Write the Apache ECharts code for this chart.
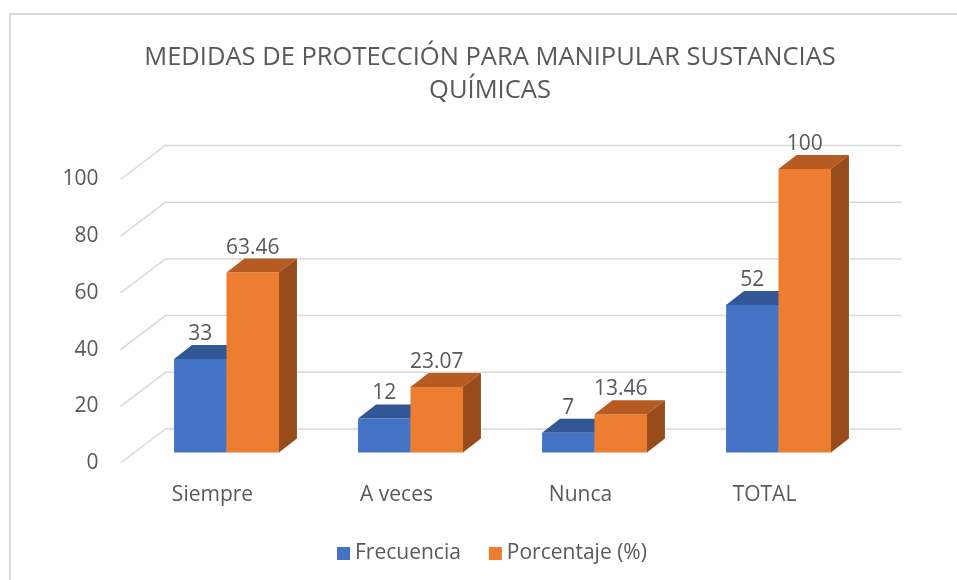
<!DOCTYPE html>
<html>
<head>
<meta charset="utf-8">
<title>Medidas de protección</title>
<script src="https://cdn.jsdelivr.net/npm/echarts@6/dist/echarts.min.js"></script>
<style>
  html, body { margin: 0; padding: 0; background: #fff; }
  #main { width: 957px; height: 580px; }
</style>
</head>
<body>
<div id="main"></div>
<script>
  const categories = ['Siempre', 'A veces', 'Nunca', 'TOTAL']
  const frecuencia = [33, 12, 7, 52]
  const porcentaje = [63.46, 23.07, 13.46, 100]
  const yTicks = [0, 20, 40, 60, 80, 100]

  const FONT = '"Open Sans", "Noto Sans", sans-serif'
  const TEXT = '#595959'
  // efecto 3D (px): lateral de barra, pared del fondo y borde delantero del suelo
  const BAR_DX = 18, BAR_DY = -14
  const BACK_DX = 31, BACK_DY = -23.5
  const FRONT_DX = -14, FRONT_DY = 10.5
  const BAR_RATIO = 0.285

  const dom = document.getElementById('main')
  const myChart = echarts.init(dom)

  function frameRenderer(params, api) {
    const v = api.value(1)
    const bw = api.size([1, 0])[0]
    const p0 = api.coord([0, v])
    const pN = api.coord([categories.length - 1, v])
    const left = p0[0] - bw / 2
    const right = pN[0] + bw / 2
    const y = p0[1]
    return {
      type: 'polyline',
      shape: { points: [[left + FRONT_DX, y + FRONT_DY], [left + BACK_DX, y + BACK_DY], [right + BACK_DX, y + BACK_DY]] },
      style: { stroke: '#d9d9d9', lineWidth: 1.5, fill: null }
    }
  }

  function barRenderer(colors, side) {
    return function (params, api) {
      const idx = api.value(0)
      const val = api.value(1)
      const top = api.coord([idx, val])
      const base = api.coord([idx, 0])
      const bw = api.size([1, 0])[0] * BAR_RATIO
      const x0 = side === 0 ? top[0] - bw : top[0]
      const x1 = x0 + bw
      const y0 = top[1], y1 = base[1]
      return {
        type: 'group',
        children: [
          { type: 'rect', shape: { x: x0, y: y0, width: bw, height: y1 - y0 }, style: { fill: colors[0] } },
          {
            type: 'polygon',
            shape: { points: [[x0, y0], [x0 + BAR_DX, y0 + BAR_DY], [x1 + BAR_DX, y0 + BAR_DY], [x1, y0]] },
            style: { fill: colors[1] }
          },
          {
            type: 'polygon',
            shape: { points: [[x1, y0], [x1 + BAR_DX, y0 + BAR_DY], [x1 + BAR_DX, y1 + BAR_DY], [x1, y1]] },
            style: { fill: colors[2] }
          },
          {
            type: 'text',
            x: (x0 + x1) / 2,
            y: y0 - 25,
            style: {
              text: String(val),
              align: 'center',
              verticalAlign: 'middle',
              fontSize: 21,
              fontFamily: FONT,
              fill: TEXT
            }
          }
        ]
      }
    }
  }

  myChart.setOption({
    animation: false,
    backgroundColor: '#fff',
    graphic: [
      {
        type: 'rect',
        silent: true,
        z: -10,
        shape: { x: 10, y: 14, width: 1000, height: 700 },
        style: { fill: 'none', stroke: '#d9d9d9', lineWidth: 2 }
      }
    ],
    title: {
      text: 'MEDIDAS DE PROTECCIÓN PARA MANIPULAR SUSTANCIAS\nQUÍMICAS',
      left: 485,
      textAlign: 'center',
      top: 36,
      textStyle: {
        fontFamily: FONT,
        fontSize: 25.5,
        fontWeight: 'normal',
        lineHeight: 33,
        color: TEXT
      }
    },
    legend: {
      left: 332,
      top: 538,
      icon: 'rect',
      itemWidth: 13,
      itemHeight: 13,
      itemGap: 28,
      textStyle: { fontFamily: FONT, fontSize: 21, color: TEXT },
      data: ['Frecuencia', 'Porcentaje (%)']
    },
    grid: {
      left: 134.5,
      right: 86.5,
      top: 169,
      bottom: 127.5
    },
    xAxis: {
      type: 'category',
      data: categories,
      axisLine: { show: false },
      axisTick: { show: false },
      axisLabel: {
        margin: 32,
        padding: [0, 28, 0, 0],
        fontFamily: FONT,
        fontSize: 21,
        color: TEXT
      }
    },
    yAxis: {
      type: 'value',
      min: 0,
      max: 100,
      interval: 20,
      axisLine: { show: false },
      axisTick: { show: false },
      splitLine: { show: false },
      axisLabel: {
        margin: 36,
        verticalAlign: 'top',
        fontFamily: FONT,
        fontSize: 21,
        color: TEXT
      }
    },
    series: [
      {
        type: 'custom',
        name: 'frame',
        silent: true,
        renderItem: frameRenderer,
        encode: { x: 0, y: 1 },
        data: yTicks.map((t) => [0, t])
      },
      {
        type: 'custom',
        name: 'Frecuencia',
        itemStyle: { color: '#4472C4' },
        renderItem: barRenderer(['#4472C4', '#335696', '#2F5597'], 0),
        encode: { x: 0, y: 1 },
        data: frecuencia.map((v, i) => [i, v])
      },
      {
        type: 'custom',
        name: 'Porcentaje (%)',
        itemStyle: { color: '#ED7D31' },
        renderItem: barRenderer(['#ED7D31', '#B65C22', '#984C1C'], 1),
        encode: { x: 0, y: 1 },
        data: porcentaje.map((v, i) => [i, v])
      }
    ]
  })
</script>
</body>
</html>
